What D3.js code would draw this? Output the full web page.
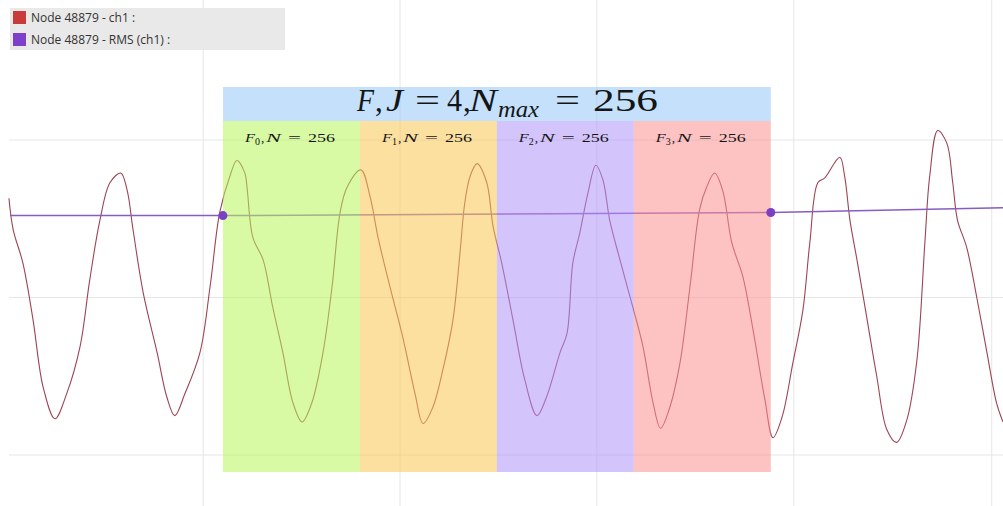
<!DOCTYPE html>
<html>
<head>
<meta charset="utf-8">
<script src="https://cdn.jsdelivr.net/npm/d3@7"></script>
<style>
  body { margin: 0; background: #fff; }
  svg { display: block; }
</style>
</head>
<body>
<svg id="chart" width="1003" height="506"></svg>
<script>
// signal samples (sample index, value)
const sampleIdx = [-400, -392, -374, -355, -336, -314, -292, -267, -249, -230, -211, -191, -179, -168, -149, -123, -105, -90, -71, -43, -24, -6,
  13, 26, 41, 45, 56, 75, 93, 112, 131, 148, 166, 187, 204, 219, 232, 258, 275, 290, 312, 336, 359, 374, 392, 411, 430, 443, 452, 462,
  475, 493, 505, 521, 542, 564, 587, 605, 630, 643, 654, 667, 682, 697, 710, 723, 742, 766, 785, 804, 818, 835, 854, 873, 891, 904,
  919, 934, 951, 972, 990, 1013, 1028, 1045, 1065, 1084, 1097, 1112, 1125, 1153, 1162, 1172, 1185, 1203, 1222, 1241, 1259, 1278,
  1297, 1312, 1321, 1336, 1353, 1364, 1373, 1390, 1409, 1428, 1446, 1458];
const ch1 = [0.63, 0.43, 0.22, -0.14, -0.57, -0.77, -0.61, -0.31, 0.11, 0.49, 0.73, 0.79, 0.68, 0.43, 0.03, -0.35, -0.63, -0.75, -0.61, -0.35, 0.07, 0.54,
  0.77, 0.87, 0.79, 0.70, 0.38, 0.24, -0.06, -0.35, -0.67, -0.79, -0.67, -0.35, 0.07, 0.54, 0.70, 0.81, 0.64, 0.38, 0.07, -0.25, -0.61, -0.80, -0.70, -0.46, -0.14, 0.28, 0.60, 0.77,
  0.85, 0.73, 0.45, 0.22, -0.14, -0.52, -0.75, -0.63, -0.35, -0.23, 0.22, 0.41, 0.66, 0.84, 0.75, 0.49, 0.24, -0.06, -0.31, -0.67, -0.83, -0.70, -0.42, 0.07, 0.56, 0.70,
  0.79, 0.68, 0.35, 0.13, -0.19, -0.65, -0.89, -0.76, -0.42, -0.08, 0.35, 0.73, 0.76, 0.89, 0.77, 0.49, 0.24, -0.12, -0.50, -0.84, -0.92, -0.78,
  -0.40, 0.35, 0.77, 1.06, 0.98, 0.73, 0.49, 0.32, 0.00, -0.35, -0.67, -0.79];

// RMS (ch1)
const rmsIdx = [-398, 0, 1024, 1458];
const rmsVal = [0.52, 0.52, 0.54, 0.57];
const rmsMarkIdx = [0, 1024];
const rmsMarkVal = [0.52, 0.54];

// frames
const frameStart = [0, 256, 512, 768];
const frameN = 256;
const frameSub = ["0", "1", "2", "3"];
const frameColor = ["rgb(184,246,90)", "rgb(250,199,82)", "rgb(177,148,250)", "rgb(251,146,146)"];
const titleColor = "rgb(148,199,246)";

const xGrid = [-37, 331, 699, 1067, 1437];
const yGrid = [-1, 0, 1];

const legendNames = ["Node 48879 - ch1 :", "Node 48879 - RMS (ch1) :"];
const legendColors = ["#c93b3b", "#7e3fcb"];

const width = 1003, height = 506;
const svg = d3.select("#chart");

const x = d3.scaleLinear().domain([-398, 1458]).range([10, 1003]);
const y = d3.scaleLinear().domain([-1, 1]).range([455, 140]);

// grid
const grid = svg.append("g");
grid.selectAll("line.v").data(xGrid).enter().append("line")
  .attr("x1", d => x(d)).attr("x2", d => x(d))
  .attr("y1", 0).attr("y2", height)
  .attr("stroke", "#e6e6ea").attr("stroke-width", 1);
grid.selectAll("line.h").data(yGrid).enter().append("line")
  .attr("x1", 9).attr("x2", width)
  .attr("y1", d => y(d)).attr("y2", d => y(d))
  .attr("stroke", "#e6e6ea").attr("stroke-width", 1);

// signal
const pts = sampleIdx.map((s, i) => [s, ch1[i]]);
const line = d3.line().x(d => x(d[0])).y(d => y(d[1])).curve(d3.curveCatmullRom.alpha(0.5));
svg.append("path").datum(pts)
  .attr("d", line)
  .attr("fill", "none")
  .attr("stroke", "#9c4452")
  .attr("stroke-width", 1.1);

// rms
const rmsPts = rmsIdx.map((s, i) => [s, rmsVal[i]]);
svg.append("path").datum(rmsPts)
  .attr("d", d3.line().x(d => x(d[0])).y(d => y(d[1])))
  .attr("fill", "none")
  .attr("stroke", "#8a5cc0")
  .attr("stroke-width", 1.5);

// frame overlays
const bandTop = 121, bandBottom = 472, titleTop = 87;
const ov = svg.append("g");
ov.selectAll("rect").data(frameStart).enter().append("rect")
  .attr("x", d => x(d))
  .attr("width", d => x(d + frameN) - x(d))
  .attr("y", bandTop)
  .attr("height", bandBottom - bandTop)
  .attr("fill", (d, i) => frameColor[i])
  .attr("opacity", 0.55);
ov.append("rect")
  .attr("x", x(frameStart[0]))
  .attr("width", x(frameStart[3] + frameN) - x(frameStart[0]))
  .attr("y", titleTop).attr("height", bandTop - titleTop)
  .attr("fill", titleColor)
  .attr("opacity", 0.55);

svg.selectAll("circle.rms").data(rmsMarkIdx).enter().append("circle")
  .attr("cx", d => x(d))
  .attr("cy", (d, i) => y(rmsMarkVal[i]))
  .attr("r", 4.5)
  .attr("fill", "#7b3fc4");

// math-style text: each piece stretched to its measured width
const serif = "'Liberation Serif', 'DejaVu Serif', serif";
function piece(t, x0, x1, yb, size, italic) {
  const el = svg.append("text")
    .attr("x", x0).attr("y", yb)
    .attr("font-family", serif)
    .attr("font-size", size)
    .attr("font-style", italic ? "italic" : "normal")
    .attr("fill", "#151515")
    .text(t);
  if (x1 != null) el.attr("textLength", x1 - x0).attr("lengthAdjust", "spacingAndGlyphs");
  return el;
}

// title  F, J = 4, N_max = 256
piece("F", 357, 374, 111, 31, true);
piece(",", 375, null, 111, 31, false);
piece("J", 386, 403, 111, 31, true);
piece("=", 415, 440, 111, 31, false);
piece("4", 447, 462, 111, 31, false);
piece(",", 463, null, 111, 31, false);
piece("N", 469, 497, 111, 31, true);
piece("max", 498, 539, 117, 23, true);
piece("=", 555, 580, 111, 31, false);
piece("256", 593, 658, 111, 31, false);

// frame labels  F_i, N = 256
frameStart.forEach((s, i) => {
  const x0 = x(s);
  piece("F", x0 + 22, x0 + 32, 142, 13.5, true);
  piece(frameSub[i], x0 + 32, x0 + 37, 145, 10, false);
  piece(",", x0 + 38, null, 142, 13.5, false);
  piece("N", x0 + 43, x0 + 58, 142, 13.5, true);
  piece("=", x0 + 65, x0 + 78, 142, 13.5, false);
  piece(String(frameN), x0 + 85, x0 + 112, 142, 13.5, false);
});

// legend
const lg = svg.append("g");
lg.append("rect").attr("x", 10).attr("y", 8).attr("width", 275).attr("height", 42).attr("fill", "#e9e9e9");
legendNames.forEach((n, i) => {
  lg.append("rect").attr("x", 13).attr("y", 11 + i * 22).attr("width", 13).attr("height", 13).attr("fill", legendColors[i]);
  lg.append("text").attr("x", 31).attr("y", 22 + i * 22)
    .attr("font-family", "'Open Sans', sans-serif").attr("font-size", 12)
    .attr("fill", "#333").text(n);
});
</script>
</body>
</html>
